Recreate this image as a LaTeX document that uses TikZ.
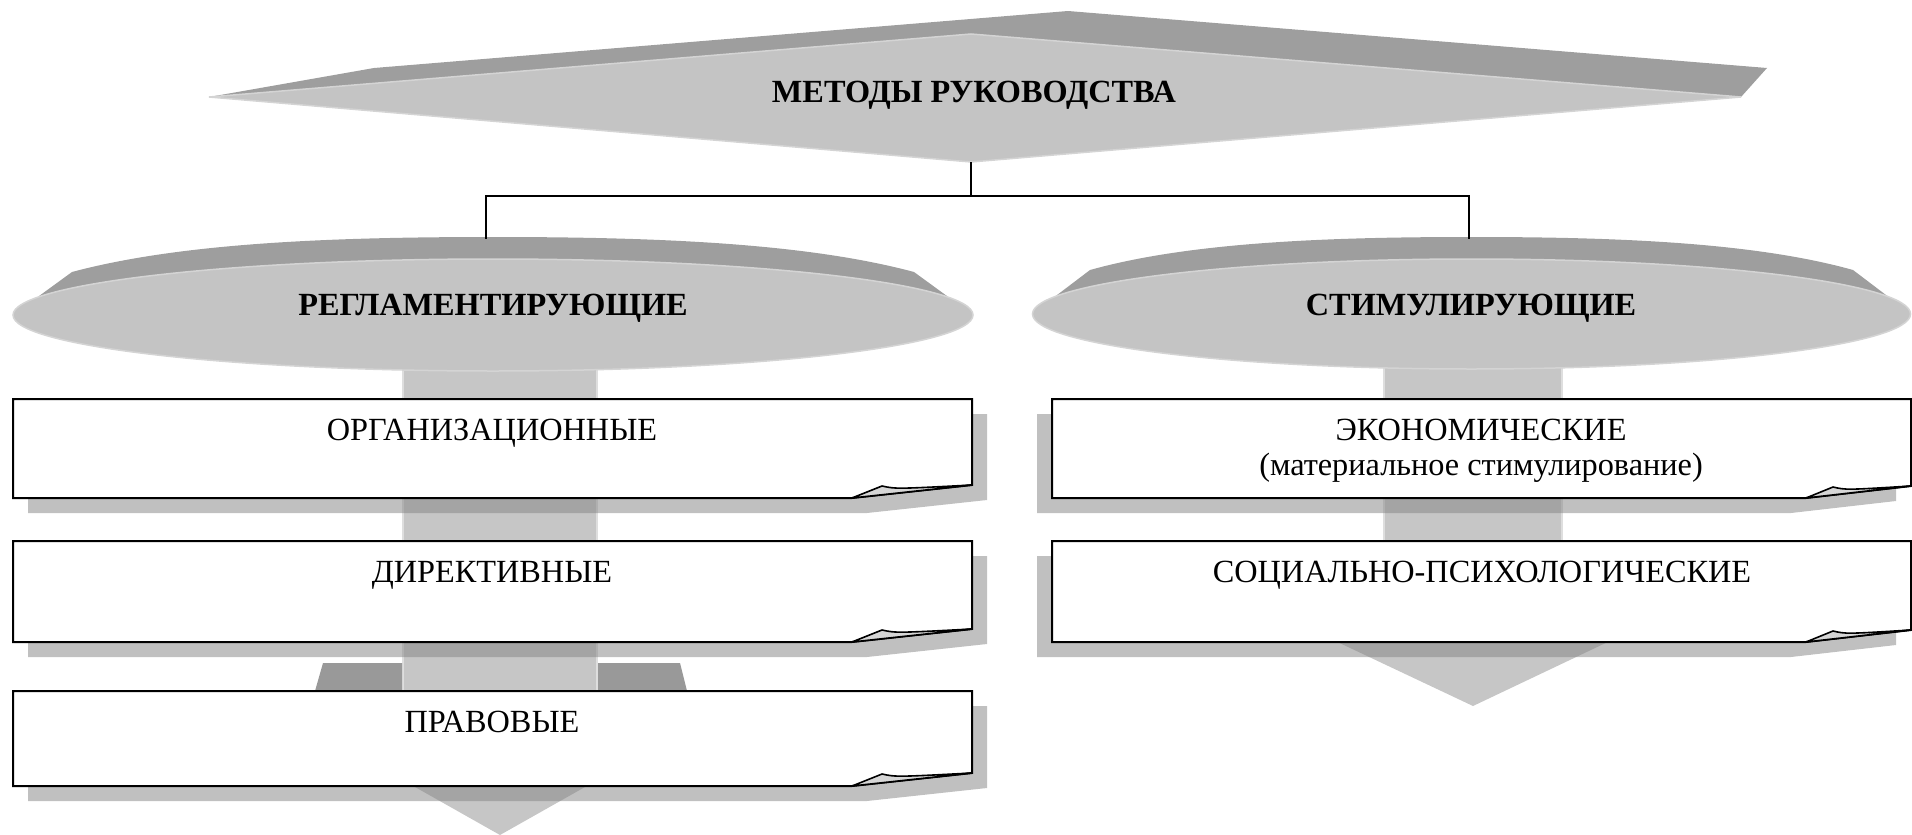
\documentclass[tikz,border=0pt]{standalone}
\usepackage{fontspec}
\setmainfont{Liberation Serif}
\definecolor{frontc}{RGB}{196,196,196}
\definecolor{backc}{RGB}{158,158,158}
\definecolor{barc}{RGB}{198,198,198}
\definecolor{wingc}{RGB}{153,153,153}
\definecolor{shadowc}{RGB}{135,135,135}
\definecolor{foldc}{RGB}{214,214,214}
\definecolor{rimc}{RGB}{212,212,212}
\definecolor{edgec}{RGB}{222,222,222}
\newcommand{\paperL}[2]{%
  \fill[shadowc, fill opacity=0.525] (28,#1+15) -- (987,#1+15) -- (987,#2+2) -- (867,#2+15) -- (28,#2+15) -- cycle;
  \draw[boxline] (13,#1) -- (972,#1) -- (972,#2-13) -- (852,#2) -- (13,#2) -- cycle;
  \draw[foldline] (852,#2) -- (882,#2-12) .. controls (896,#2-9) .. (972,#2-13) -- cycle;
}
\newcommand{\paperR}[2]{%
  \fill[shadowc, fill opacity=0.525] (1037,#1+15) -- (1896,#1+15) -- (1896,#2+3) -- (1791,#2+15) -- (1037,#2+15) -- cycle;
  \draw[boxline] (1052,#1) -- (1911,#1) -- (1911,#2-12) -- (1806,#2) -- (1052,#2) -- cycle;
  \draw[foldline] (1806,#2) -- (1833,#2-11) .. controls (1846,#2-8) .. (1911,#2-12) -- cycle;
}
\begin{document}
\begin{tikzpicture}[x=1pt,y=-1pt,
  txt/.style={font=\fontsize{32.3}{37}\selectfont, inner sep=0pt, anchor=base},
  btxt/.style={font=\fontsize{32.3}{37}\selectfont\bfseries, inner sep=0pt, anchor=base},
  boxline/.style={draw=black, line width=2pt, fill=white, line join=miter},
  foldline/.style={draw=black, line width=1.6pt, fill=foldc, line join=round},
  conn/.style={draw=black, line width=1.6pt},
  face/.style={fill=frontc, draw=rimc, line width=1.5pt}]
\useasboundingbox (0,0) rectangle (1912,835);
\clip (0,0) rectangle (1912,835);

% ---- top diamond
\fill[backc] (209,97) -- (374,68) -- (1068,11) -- (1767,68) -- (1741,97) -- cycle;
\path[face] (209,97) -- (971,34) -- (1741,97) -- (971,162) -- cycle;
\node[btxt] (title) at (974,102) {МЕТОДЫ РУКОВОДСТВА};
\coordinate (tip) at (971,162);

% ---- left arrow body
\fill[barc] (402,350) rectangle (598,691);
\draw[edgec, line width=1.2pt] (403,350) -- (403,691) (597,350) -- (597,691);
\fill[wingc] (323,663) -- (402,663) -- (402,691) -- (315,691) -- cycle;
\fill[wingc] (598,663) -- (680,663) -- (687,691) -- (598,691) -- cycle;
\fill[barc] (245,691) -- (755,691) -- (500,835) -- cycle;

% ---- right arrow body
\fill[barc] (1383,350) rectangle (1563,642);
\draw[edgec, line width=1.2pt] (1384,350) -- (1384,642) (1562,350) -- (1562,642);
\fill[barc] (1312,630) -- (1633,630) -- (1473,706) -- cycle;

% ---- left ellipse
\fill[backc] (13,315) -- (72,272) .. controls (180,243) and (330,237) .. (493,237)
  .. controls (656,237) and (806,243) .. (914,272) -- (973,315) -- cycle;
\path[face] (493,315) ellipse [x radius=480pt, y radius=56pt];
\node[btxt] (reg) at (493,315) {РЕГЛАМЕНТИРУЮЩИЕ};
\coordinate (regtop) at (486,239);

% ---- right ellipse
\fill[backc] (1032,314) -- (1090,270) .. controls (1190,242) and (1330,237) .. (1471.5,237)
  .. controls (1613,237) and (1753,242) .. (1853,270) -- (1911,314) -- cycle;
\path[face] (1471.5,314) ellipse [x radius=439pt, y radius=55pt];
\node[btxt] (stim) at (1471,315) {СТИМУЛИРУЮЩИЕ};
\coordinate (stimtop) at (1469,239);

% ---- connectors
\draw[conn] (tip) -- ++(0,34) -| (regtop);
\draw[conn] (tip) -- ++(0,34) -| (stimtop);

% ---- left boxes
\paperL{399}{498}
\paperL{541}{642}
\paperL{691}{786}
\node[txt] (org) at (492,440) {ОРГАНИЗАЦИОННЫЕ};
\node[txt] (dir) at (492,582) {ДИРЕКТИВНЫЕ};
\node[txt] (prav) at (492,732) {ПРАВОВЫЕ};

% ---- right boxes
\paperR{399}{498}
\paperR{541}{642}
\node[txt] (econ) at (1481,440) {ЭКОНОМИЧЕСКИЕ};
\node[txt] (econb) at (1481,475) {(материальное стимулирование)};
\node[txt] (soc) at (1482,582) {СОЦИАЛЬНО-ПСИХОЛОГИЧЕСКИЕ};
\end{tikzpicture}
\end{document}
